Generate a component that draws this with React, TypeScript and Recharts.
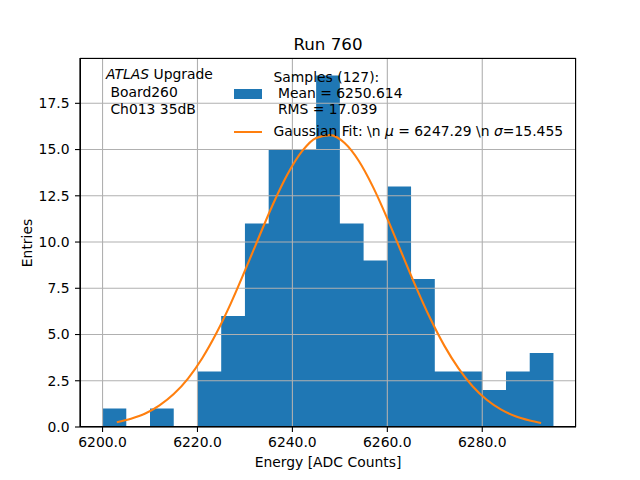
import React from "react";
import {
  ComposedChart,
  Area,
  Line,
  XAxis,
  YAxis,
  CartesianGrid,
} from "recharts";

// Histogram bins (left edges) and counts
const binEdges = [
  6200, 6205, 6210, 6215, 6220, 6225, 6230, 6235, 6240, 6245, 6250, 6255,
  6260, 6265, 6270, 6275, 6280, 6285, 6290, 6295,
];
const counts = [1, 0, 1, 0, 3, 6, 11, 15, 15, 19, 11, 9, 13, 8, 3, 3, 2, 3, 4];

// Gaussian fit curve
const fitX = [
  6203, 6206, 6209, 6212, 6215, 6218, 6221, 6224, 6227, 6230, 6233, 6236,
  6239, 6242, 6245, 6248, 6251, 6254, 6257, 6260, 6263, 6266, 6269, 6272,
  6275, 6278, 6281, 6284, 6287, 6290, 6292.4,
];
const fitY = [
  0.26, 0.45, 0.73, 1.17, 1.78, 2.62, 3.72, 5.08, 6.67, 8.45, 10.3, 12.1,
  13.68, 14.9, 15.63, 15.78, 15.35, 14.38, 12.97, 11.27, 9.42, 7.59, 5.89,
  4.4, 3.17, 2.19, 1.46, 0.94, 0.58, 0.35, 0.22,
];

const xTicks = [6200, 6220, 6240, 6260, 6280];
const yTicks = [0, 2.5, 5, 7.5, 10, 12.5, 15, 17.5];

const histData = binEdges.map((x, i) => ({
  x,
  count: i < counts.length ? counts[i] : counts[counts.length - 1],
}));
const fitData = fitX.map((x, i) => ({ x, fit: fitY[i] }));

const FONT = "'DejaVu Sans', sans-serif";
const FS = 13.9;
const BLUE = "#1f77b4";
const ORANGE = "#ff7f0e";

const textStyle = (left: number, top: number): React.CSSProperties => ({
  position: "absolute",
  left,
  top,
  fontFamily: FONT,
  fontSize: FS,
  lineHeight: "16.7px",
  whiteSpace: "pre",
  color: "#000",
});

export default function App() {
  const tickStyle = { fill: "#000", fontSize: FS, fontFamily: FONT };
  const gridProps: any = { stroke: "#b0b0b0", strokeWidth: 1.1, zIndex: 150 };
  return (
    <div
      style={{
        position: "absolute",
        left: 0,
        top: 0,
        width: 640,
        height: 480,
        background: "#fff",
        overflow: "hidden",
      }}
    >
      <ComposedChart
        width={640}
        height={480}
        margin={{ top: 58, right: 64, bottom: 23, left: 0 }}
      >
        <XAxis
          dataKey="x"
          type="number"
          domain={[6195.25, 6299.75]}
          ticks={xTicks}
          tickFormatter={(v: number) => v.toFixed(1)}
          height={30}
          tickSize={5}
          tickMargin={5}
          tick={tickStyle}
          axisLine={{ stroke: "#000", strokeWidth: 1.1 }}
          tickLine={{ stroke: "#000", strokeWidth: 1.1 }}
          allowDataOverflow
        />
        <YAxis
          type="number"
          domain={[0, 19.95]}
          ticks={yTicks}
          tickFormatter={(v: number) => v.toFixed(1)}
          width={80}
          tickSize={5}
          tickMargin={5.5}
          tick={tickStyle}
          axisLine={{ stroke: "#000", strokeWidth: 1.1 }}
          tickLine={{ stroke: "#000", strokeWidth: 1.1 }}
          allowDataOverflow
        />
        <Area
          data={histData}
          dataKey="count"
          type="stepAfter"
          stroke="none"
          fill={BLUE}
          fillOpacity={1}
          isAnimationActive={false}
          dot={false}
          activeDot={false}
        />
        <CartesianGrid {...gridProps} />
        <Line
          data={fitData}
          dataKey="fit"
          type="monotone"
          stroke={ORANGE}
          strokeWidth={2.1}
          dot={false}
          activeDot={false}
          isAnimationActive={false}
        />
      </ComposedChart>

      {/* axes frame */}
      <div
        style={{
          position: "absolute",
          left: 80,
          top: 58,
          width: 496,
          height: 369,
          border: "1.1px solid #000",
          boxSizing: "border-box",
          pointerEvents: "none",
        }}
      />

      {/* title */}
      <div
        style={{
          position: "absolute",
          left: 80,
          width: 496,
          top: 33.5,
          textAlign: "center",
          fontFamily: FONT,
          fontSize: 16.7,
          lineHeight: "20px",
        }}
      >
        Run 760
      </div>

      {/* annotation */}
      <div style={textStyle(106, 66.2)}>
        <i>ATLAS</i> Upgrade
      </div>
      <div style={textStyle(106, 83.6)}>{" Board260"}</div>
      <div style={textStyle(106, 101)}>{" Ch013 35dB"}</div>

      {/* legend */}
      <div
        style={{
          position: "absolute",
          left: 234,
          top: 88.7,
          width: 28,
          height: 10,
          background: BLUE,
        }}
      />
      <div style={textStyle(273.5, 68.8)}>{"Samples (127):"}</div>
      <div style={textStyle(273.5, 84.8)}>{" Mean = 6250.614"}</div>
      <div style={textStyle(273.5, 101.1)}>{" RMS = 17.039"}</div>
      <div
        style={{
          position: "absolute",
          left: 234,
          top: 130.7,
          width: 28,
          height: 2.1,
          background: ORANGE,
        }}
      />
      <div style={textStyle(273.5, 122.8)}>
        {"Gaussian Fit: \\n "}
        <i>μ</i>
        {" = 6247.29 \\n "}
        <i>σ</i>
        {"=15.455"}
      </div>

      {/* axis labels */}
      <div
        style={{
          position: "absolute",
          left: 80,
          width: 496,
          top: 453.8,
          textAlign: "center",
          fontFamily: FONT,
          fontSize: FS,
          lineHeight: "16.7px",
        }}
      >
        Energy [ADC Counts]
      </div>
      <div
        style={{
          position: "absolute",
          left: 26.5,
          top: 242.5,
          transform: "translate(-50%, -50%) rotate(-90deg)",
          fontFamily: FONT,
          fontSize: FS,
          lineHeight: "16.7px",
          whiteSpace: "nowrap",
        }}
      >
        Entries
      </div>
    </div>
  );
}
